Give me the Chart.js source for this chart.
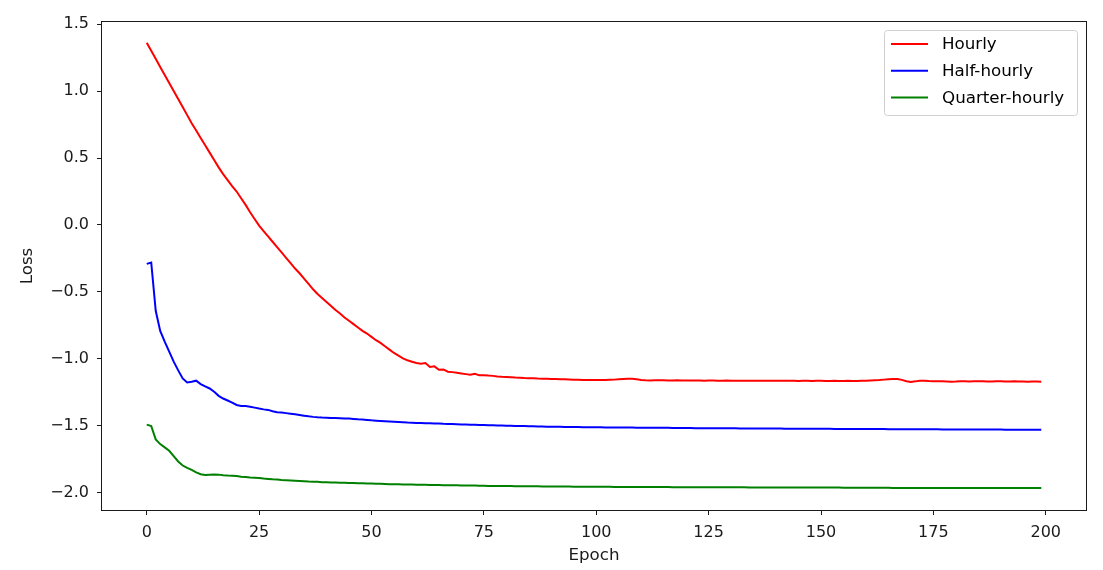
<!DOCTYPE html>
<html>
<head>
<meta charset="utf-8">
<script src="https://cdn.jsdelivr.net/npm/chart.js@4/dist/chart.umd.min.js"></script>
<style>
  html, body { margin: 0; padding: 0; background: #fff; }
  #wrap { width: 1103px; height: 570px; position: relative; }
</style>
</head>
<body>
<div id="wrap"><canvas id="c" width="1103" height="570"></canvas></div>
<script>
// ---------- data ----------
const epochs = Array.from({length: 200}, (_, i) => i);
const seriesNames = ["Hourly", "Half-hourly", "Quarter-hourly"];
const seriesColors = ["#ff0000", "#0000ff", "#008000"];

const hourly = [
  1.36, 1.30, 1.24, 1.18, 1.12, 1.06, 1.00, 0.94, 0.88, 0.82,
  0.76, 0.705, 0.65, 0.595, 0.54, 0.485, 0.43, 0.38, 0.335, 0.29,
  0.25, 0.20, 0.15, 0.095, 0.045, -0.005, -0.045, -0.085, -0.125, -0.165,
  -0.205, -0.245, -0.285, -0.325, -0.36, -0.40, -0.44, -0.48, -0.515, -0.545,
  -0.575, -0.605, -0.635, -0.66, -0.69, -0.715, -0.74, -0.765, -0.79, -0.81,
  -0.835, -0.86, -0.88, -0.905, -0.93, -0.955, -0.975, -0.995, -1.01, -1.02,
  -1.03, -1.035, -1.03, -1.06, -1.055, -1.08, -1.078, -1.095, -1.098, -1.103,
  -1.108, -1.113, -1.118, -1.11, -1.122, -1.121, -1.124, -1.126, -1.13, -1.133,
  -1.135, -1.137, -1.139, -1.14, -1.142, -1.143, -1.144, -1.146, -1.147, -1.148,
  -1.149, -1.15, -1.151, -1.152, -1.153, -1.154, -1.155, -1.156, -1.156, -1.157,
  -1.157, -1.157, -1.156, -1.155, -1.154, -1.152, -1.15, -1.148, -1.147, -1.152,
  -1.157, -1.159, -1.16, -1.159, -1.158, -1.159, -1.16, -1.16, -1.159, -1.16,
  -1.161, -1.161, -1.16, -1.161, -1.162, -1.161, -1.161, -1.162, -1.162, -1.161,
  -1.162, -1.162, -1.163, -1.162, -1.162, -1.163, -1.162, -1.163, -1.163, -1.162,
  -1.163, -1.163, -1.162, -1.163, -1.163, -1.164, -1.163, -1.163, -1.164, -1.163,
  -1.163, -1.164, -1.164, -1.163, -1.164, -1.164, -1.163, -1.164, -1.164, -1.163,
  -1.163, -1.161, -1.159, -1.157, -1.154, -1.151, -1.149, -1.149, -1.156, -1.166,
  -1.171, -1.167, -1.162, -1.162, -1.165, -1.167, -1.166, -1.167, -1.168, -1.169,
  -1.168, -1.166, -1.167, -1.168, -1.167, -1.166, -1.167, -1.168, -1.168, -1.167,
  -1.167, -1.168, -1.168, -1.167, -1.168, -1.168, -1.169, -1.168, -1.168, -1.169
];

const halfHourly = [
  -0.29, -0.28, -0.64, -0.79, -0.87, -0.945, -1.02, -1.085, -1.145, -1.175,
  -1.17, -1.162, -1.187, -1.205, -1.22, -1.245, -1.275, -1.295, -1.31, -1.325,
  -1.343, -1.35, -1.351, -1.356, -1.363, -1.37, -1.376, -1.38, -1.39, -1.397,
  -1.40, -1.404, -1.408, -1.413, -1.418, -1.423, -1.428, -1.432, -1.435, -1.437,
  -1.438, -1.44, -1.441, -1.442, -1.444, -1.445, -1.447, -1.45, -1.452, -1.455,
  -1.458, -1.46, -1.462, -1.464, -1.466, -1.468, -1.47, -1.472, -1.474, -1.475,
  -1.477, -1.478, -1.479, -1.48, -1.481, -1.482, -1.484, -1.485, -1.486, -1.487,
  -1.488, -1.489, -1.49, -1.491, -1.492, -1.493, -1.494, -1.495, -1.496, -1.497,
  -1.498, -1.499, -1.50, -1.50, -1.501, -1.502, -1.502, -1.503, -1.504, -1.505,
  -1.505, -1.506, -1.506, -1.507, -1.507, -1.508, -1.508, -1.509, -1.509, -1.51,
  -1.51, -1.51, -1.511, -1.511, -1.511, -1.512, -1.512, -1.512, -1.512, -1.513,
  -1.513, -1.513, -1.513, -1.514, -1.514, -1.514, -1.514, -1.515, -1.515, -1.515,
  -1.515, -1.515, -1.516, -1.516, -1.516, -1.516, -1.516, -1.517, -1.517, -1.517,
  -1.517, -1.517, -1.518, -1.518, -1.518, -1.518, -1.518, -1.519, -1.519, -1.519,
  -1.519, -1.519, -1.52, -1.52, -1.52, -1.52, -1.52, -1.52, -1.521, -1.521,
  -1.521, -1.521, -1.521, -1.522, -1.522, -1.522, -1.522, -1.522, -1.522, -1.523,
  -1.523, -1.523, -1.523, -1.523, -1.523, -1.524, -1.524, -1.524, -1.524, -1.524,
  -1.524, -1.525, -1.525, -1.525, -1.525, -1.525, -1.525, -1.526, -1.526, -1.526,
  -1.526, -1.526, -1.526, -1.526, -1.527, -1.527, -1.527, -1.527, -1.527, -1.527,
  -1.527, -1.528, -1.528, -1.528, -1.528, -1.528, -1.528, -1.528, -1.528, -1.528
];

const quarterHourly = [
  -1.49, -1.50, -1.60, -1.635, -1.66, -1.685, -1.725, -1.765, -1.795, -1.813,
  -1.828, -1.846, -1.86, -1.866, -1.864, -1.862, -1.863, -1.867, -1.87, -1.871,
  -1.873, -1.878, -1.881, -1.884, -1.886, -1.888, -1.892, -1.895, -1.898, -1.90,
  -1.903, -1.905, -1.907, -1.909, -1.911, -1.913, -1.915, -1.916, -1.917, -1.919,
  -1.92, -1.921, -1.922, -1.923, -1.924, -1.925, -1.926, -1.927, -1.928, -1.929,
  -1.93, -1.931, -1.932, -1.933, -1.934, -1.935, -1.935, -1.936, -1.937, -1.937,
  -1.938, -1.939, -1.939, -1.94, -1.941, -1.941, -1.942, -1.942, -1.943, -1.943,
  -1.944, -1.944, -1.945, -1.945, -1.946, -1.946, -1.947, -1.947, -1.947, -1.948,
  -1.948, -1.948, -1.949, -1.949, -1.949, -1.95, -1.95, -1.95, -1.951, -1.951,
  -1.951, -1.952, -1.952, -1.952, -1.952, -1.953, -1.953, -1.953, -1.953, -1.954,
  -1.954, -1.954, -1.954, -1.954, -1.955, -1.955, -1.955, -1.955, -1.955, -1.955,
  -1.956, -1.956, -1.956, -1.956, -1.956, -1.956, -1.956, -1.957, -1.957, -1.957,
  -1.957, -1.957, -1.957, -1.957, -1.957, -1.958, -1.958, -1.958, -1.958, -1.958,
  -1.958, -1.958, -1.958, -1.958, -1.959, -1.959, -1.959, -1.959, -1.959, -1.959,
  -1.959, -1.959, -1.959, -1.959, -1.96, -1.96, -1.96, -1.96, -1.96, -1.96,
  -1.96, -1.96, -1.96, -1.96, -1.96, -1.961, -1.961, -1.961, -1.961, -1.961,
  -1.961, -1.961, -1.961, -1.961, -1.961, -1.961, -1.962, -1.962, -1.962, -1.962,
  -1.962, -1.962, -1.962, -1.962, -1.962, -1.962, -1.962, -1.962, -1.962, -1.963,
  -1.963, -1.963, -1.963, -1.963, -1.963, -1.963, -1.963, -1.963, -1.963, -1.963,
  -1.963, -1.963, -1.963, -1.963, -1.963, -1.963, -1.963, -1.963, -1.963, -1.963
];

const xTickValues = [0, 25, 50, 75, 100, 125, 150, 175, 200];
const yTickValues = [-2.0, -1.5, -1.0, -0.5, 0.0, 0.5, 1.0, 1.5];
const xTitle = "Epoch";
const yTitle = "Loss";

// ---------- chart ----------
const FAMILY = "'DejaVu Sans', sans-serif";
const TICK_FONT = { family: FAMILY, size: 16 };
const LABEL_FONT = { family: FAMILY, size: 16.7 };
const TEXT = "#1a1a1a";
const allSeries = [hourly, halfHourly, quarterHourly];

const datasets = allSeries.map((vals, k) => ({
  label: seriesNames[k],
  data: vals.map((v, i) => ({ x: epochs[i], y: v })),
  borderColor: seriesColors[k],
  backgroundColor: seriesColors[k],
  borderWidth: 2,
  pointRadius: 0,
  tension: 0,
  fill: false
}));

const fmtY = v => (v < 0 ? "\u2212" : "") + Math.abs(v).toFixed(1);

const framePlugin = {
  id: "frame",
  afterDraw(chart) {
    const { ctx, chartArea: a } = chart;
    ctx.save();
    ctx.strokeStyle = "#1a1a1a";
    ctx.lineWidth = 1;
    ctx.strokeRect(Math.round(a.left) - 0.5, Math.round(a.top) - 0.5,
                   Math.round(a.right - a.left) + 1, Math.round(a.bottom - a.top) + 1);

    // legend (matplotlib style, upper right)
    const bx = 884.5, by = 30.5, bw = 193, bh = 85, r = 3;
    ctx.beginPath();
    ctx.moveTo(bx + r, by);
    ctx.lineTo(bx + bw - r, by);
    ctx.quadraticCurveTo(bx + bw, by, bx + bw, by + r);
    ctx.lineTo(bx + bw, by + bh - r);
    ctx.quadraticCurveTo(bx + bw, by + bh, bx + bw - r, by + bh);
    ctx.lineTo(bx + r, by + bh);
    ctx.quadraticCurveTo(bx, by + bh, bx, by + bh - r);
    ctx.lineTo(bx, by + r);
    ctx.quadraticCurveTo(bx, by, bx + r, by);
    ctx.closePath();
    ctx.fillStyle = "rgba(255,255,255,0.8)";
    ctx.fill();
    ctx.strokeStyle = "#d0d0d0";
    ctx.stroke();

    ctx.font = "16.7px " + FAMILY;
    ctx.textBaseline = "middle";
    ctx.textAlign = "left";
    chart.data.datasets.forEach((ds, i) => {
      const y = 44 + i * 26.7;
      ctx.beginPath();
      ctx.strokeStyle = ds.borderColor;
      ctx.lineWidth = 2;
      ctx.moveTo(891, y);
      ctx.lineTo(928, y);
      ctx.stroke();
      ctx.fillStyle = "#000";
      ctx.fillText(ds.label, 942, y + 1);
    });
    ctx.restore();
  }
};

new Chart(document.getElementById("c"), {
  type: "line",
  data: { datasets },
  plugins: [framePlugin],
  options: {
    responsive: false,
    animation: false,
    devicePixelRatio: 1,
    layout: { padding: { top: 22, right: 17, bottom: 0, left: 0 } },
    plugins: { legend: { display: false }, tooltip: { enabled: false } },
    scales: {
      x: {
        type: "linear",
        min: -9.95,
        max: 208.95,
        afterBuildTicks: s => { s.ticks = xTickValues.map(v => ({ value: v })); },
        afterFit: s => { s.height = 60; },
        ticks: {
          font: TICK_FONT, color: TEXT, padding: 8, maxRotation: 0, autoSkip: false,
          callback: v => String(v)
        },
        grid: { display: true, drawOnChartArea: false, drawTicks: true, tickLength: 5, tickColor: "#1a1a1a", color: "#1a1a1a" },
        border: { display: false },
        title: { display: true, text: xTitle, font: LABEL_FONT, color: TEXT, padding: { top: 0, bottom: 4 } }
      },
      y: {
        type: "linear",
        min: -2.127,
        max: 1.515,
        afterBuildTicks: s => { s.ticks = yTickValues.map(v => ({ value: v })); },
        afterFit: s => { s.width = 102; },
        ticks: { font: TICK_FONT, color: TEXT, padding: 8, autoSkip: false, callback: v => fmtY(v) },
        grid: { display: true, drawOnChartArea: false, drawTicks: true, tickLength: 5, tickColor: "#1a1a1a", color: "#1a1a1a" },
        border: { display: false },
        title: { display: true, text: yTitle, font: LABEL_FONT, color: TEXT, padding: { top: 18, bottom: 0 } }
      }
    }
  }
});
</script>
</body>
</html>
